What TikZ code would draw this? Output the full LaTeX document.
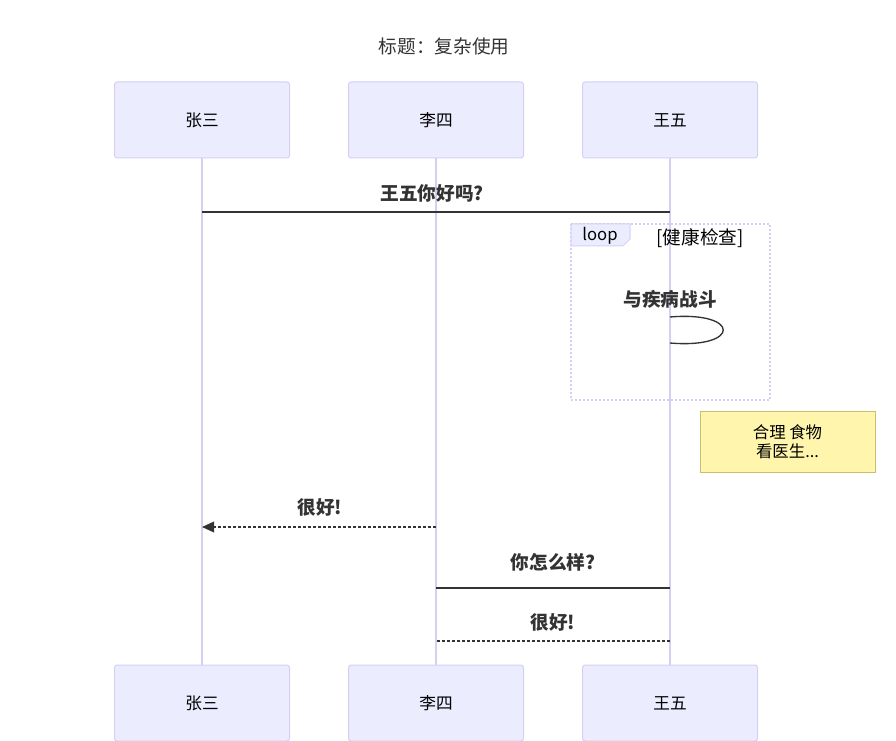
\documentclass[tikz,border=0pt]{standalone}
\usepackage{fontspec}
\setmainfont{Noto Sans CJK SC}
\usetikzlibrary{arrows.meta}
\definecolor{actorfill}{HTML}{ECECFF}
\definecolor{actorline}{HTML}{D5CFF3}
\definecolor{msgline}{HTML}{333333}
\definecolor{notefill}{HTML}{FFF5AD}
\definecolor{noteline}{HTML}{C8C070}

\begin{document}
\begin{tikzpicture}[x=0.75pt, y=-0.75pt,
  actor/.style={draw=actorline, fill=actorfill, rounded corners=2pt, line width=0.75pt,
    minimum width=131.25pt, minimum height=57pt, font=\fontsize{12.5}{14}\selectfont},
  lifeline/.style={draw=actorline, line width=1.5pt},
  msg/.style={draw=msgline, line width=1.1pt},
  reply/.style={msg, dash pattern=on 2.25pt off 1.5pt},
  msglabel/.style={text=msgline, font=\fontsize{14}{16}\selectfont\bfseries},
  notebox/.style={draw=noteline, fill=notefill, line width=0.75pt, minimum width=131.25pt,
    minimum height=45pt, align=center, font=\fontsize{12.3}{14.5}\selectfont}]

\useasboundingbox (0,0) rectangle (896,741);

% Title
\node[text=msgline, font=\fontsize{14}{16}\selectfont] (title) at (444,46) {标题：复杂使用};

% Actors
\node[actor] (zs) at (202,120) {张三};
\node[actor] (ls) at (436,120) {李四};
\node[actor] (ww) at (670,120) {王五};
\node[actor] (zsb) at (202,703) {张三};
\node[actor] (lsb) at (436,703) {李四};
\node[actor] (wwb) at (670,703) {王五};

% Lifelines
\draw[lifeline] (zs.south) -- (zsb.north);
\draw[lifeline] (ls.south) -- (lsb.north);
\draw[lifeline] (ww.south) -- (wwb.north);

% Loop frame
\draw[actorline, line width=1pt, dash pattern=on 1.5pt off 1.5pt] (571,224) rectangle (770,400);
\draw[actorline, fill=actorfill, line width=0.75pt] (571,224) -- (630,224) -- (630,239) -- (623,246) -- (571,246) -- cycle;
\node[font=\fontsize{12.5}{14}\selectfont] (looptag) at (600,236) {loop};
\node[font=\fontsize{14}{16}\selectfont] (loopcond) at (700,238) {[健康检查]};

% Messages
\coordinate (m1a) at (670,212);
\coordinate (m1b) at (202,212);
\node[msglabel] (m1) at (432,193) {王五你好吗?};
\draw[msg] (m1a) -- (m1b);

\coordinate (s1a) at (670,317);
\coordinate (s1b) at (670,343);
\node[msglabel] (s1) at (670,299) {与疾病战斗};
\draw[draw=msgline, line width=1pt] (s1a) .. controls (741,311) and (741,349) .. (s1b);

% Note
\node[notebox] (note) at (787.5,442) {合理 食物\\看医生...};

\coordinate (m2a) at (436,527);
\coordinate (m2b) at (202,527);
\node[msglabel] (m2) at (320,507) {很好!};
\draw[reply, -{Triangle[length=9pt, width=8pt]}] (m2a) -- (m2b);

\coordinate (m3a) at (436,588);
\coordinate (m3b) at (670,588);
\node[msglabel] (m3) at (553,562) {你怎么样?};
\draw[msg] (m3a) -- (m3b);

\coordinate (m4a) at (670,641);
\coordinate (m4b) at (436,641);
\node[msglabel] (m4) at (553,622) {很好!};
\draw[reply] (m4a) -- (m4b);

\end{tikzpicture}
\end{document}
